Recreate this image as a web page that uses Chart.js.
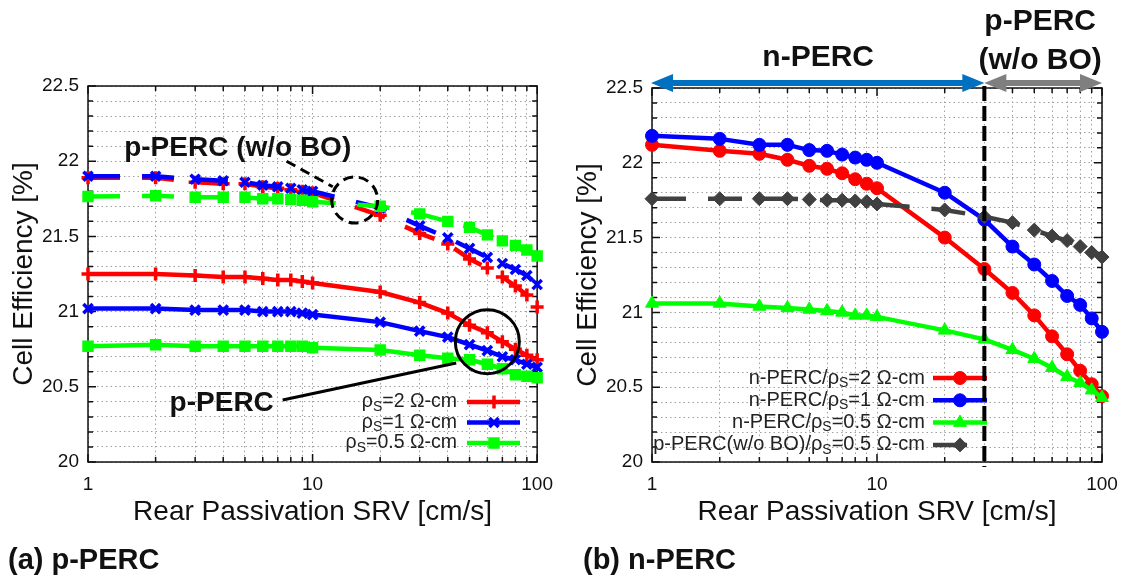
<!DOCTYPE html>
<html>
<head>
<meta charset="utf-8">
<script src="https://cdn.jsdelivr.net/npm/chart.js@4.4.1/dist/chart.umd.min.js"></script>
<style>
  html, body { margin: 0; padding: 0; background: #fff; }
  #wrap { position: relative; width: 1130px; height: 579px; overflow: hidden; }
  canvas { position: absolute; top: 0; }
  #chartA { left: 0; }
  #chartB { left: 564px; }
  .caption { position: absolute; top: 543px; line-height: 32px; font: bold 29px "Liberation Sans", Arial, sans-serif; color: #111; }
</style>
</head>
<body>
<div id="wrap">
  <canvas id="chartA" width="564" height="579"></canvas>
  <canvas id="chartB" width="566" height="579"></canvas>
  <div class="caption" style="left:8px">(a) p-PERC</div>
  <div class="caption" style="left:583px">(b) n-PERC</div>
</div>
<script>
const FONT = '"Liberation Sans", Arial, sans-serif';

// rear passivation SRV [cm/s]
const srv = [1, 2, 3, 4, 5, 6, 7, 8, 9, 10, 20, 30, 40, 50, 60, 70, 80, 90, 100];

// (a) p-PERC, with BO degradation (solid)
const pRho2 = [21.25, 21.25, 21.24, 21.23, 21.23, 21.22, 21.21, 21.21, 21.20, 21.19, 21.13, 21.06, 20.99, 20.91, 20.86, 20.80, 20.75, 20.71, 20.68];
const pRho1 = [21.02, 21.02, 21.01, 21.01, 21.01, 21.00, 21.00, 21.00, 20.99, 20.98, 20.93, 20.87, 20.83, 20.78, 20.74, 20.70, 20.68, 20.65, 20.63];
const pRho05 = [20.77, 20.78, 20.77, 20.77, 20.77, 20.77, 20.77, 20.77, 20.77, 20.76, 20.745, 20.71, 20.69, 20.68, 20.65, 20.62, 20.58, 20.57, 20.56];

// (a) p-PERC w/o BO (dashed)
const pNoBoRho2 = [21.89, 21.89, 21.86, 21.85, 21.85, 21.83, 21.82, 21.81, 21.80, 21.79, 21.64, 21.52, 21.45, 21.35, 21.29, 21.23, 21.17, 21.11, 21.03];
const pNoBoRho1 = [21.90, 21.90, 21.88, 21.87, 21.86, 21.84, 21.83, 21.82, 21.81, 21.80, 21.69, 21.57, 21.49, 21.42, 21.36, 21.32, 21.28, 21.24, 21.18];
const pNoBoRho05 = [21.765, 21.77, 21.76, 21.76, 21.76, 21.75, 21.75, 21.745, 21.74, 21.73, 21.70, 21.65, 21.60, 21.56, 21.51, 21.47, 21.44, 21.41, 21.37];

// (b) n-PERC
const nRho2 = [22.12, 22.08, 22.06, 22.02, 21.98, 21.96, 21.93, 21.89, 21.86, 21.83, 21.50, 21.29, 21.13, 20.98, 20.84, 20.72, 20.61, 20.52, 20.44];
const nRho1 = [22.18, 22.16, 22.12, 22.12, 22.085, 22.08, 22.055, 22.035, 22.02, 22.00, 21.80, 21.62, 21.44, 21.32, 21.21, 21.11, 21.05, 20.96, 20.87];
const nRho05 = [21.06, 21.06, 21.04, 21.03, 21.02, 21.01, 21.00, 20.98, 20.98, 20.97, 20.88, 20.82, 20.75, 20.69, 20.63, 20.57, 20.53, 20.48, 20.43];
const nRefNoBo = [21.76, 21.76, 21.76, 21.76, 21.755, 21.75, 21.75, 21.745, 21.74, 21.725, 21.685, 21.64, 21.60, 21.55, 21.51, 21.48, 21.44, 21.40, 21.37];

// axes
const xTickValues = [1, 2, 3, 4, 5, 6, 7, 8, 9, 10, 20, 30, 40, 50, 60, 70, 80, 90, 100];
const xTickLabels = [1, 10, 100];
const yTickLabels = [20, 20.5, 21, 21.5, 22, 22.5];

const legendA = [
  { pre: 'ρ', sub: 'S', post: '=2 Ω-cm' },
  { pre: 'ρ', sub: 'S', post: '=1 Ω-cm' },
  { pre: 'ρ', sub: 'S', post: '=0.5 Ω-cm' },
];
const legendB = [
  { pre: 'n-PERC/ρ', sub: 'S', post: '=2 Ω-cm' },
  { pre: 'n-PERC/ρ', sub: 'S', post: '=1 Ω-cm' },
  { pre: 'n-PERC/ρ', sub: 'S', post: '=0.5 Ω-cm' },
  { pre: 'p-PERC(w/o BO)/ρ', sub: 'S', post: '=0.5 Ω-cm' },
];

const RED = '#ff0000', BLUE = '#0000ff', GREEN = '#00ff00', GRAY = '#404040';

Chart.defaults.font.family = FONT;

function series(label, values, color, style, radius, extra) {
  return Object.assign({
    label: label,
    data: srv.map((x, i) => ({ x: x, y: values[i] })),
    borderColor: color,
    backgroundColor: color,
    pointBackgroundColor: color,
    pointBorderColor: color,
    borderWidth: 4.5,
    borderJoinStyle: 'round',
    pointStyle: style,
    pointRadius: radius,
    pointBorderWidth: 3,
    tension: 0,
    clip: false,
  }, extra || {});
}

function buildScales() {
  return {
    x: {
      type: 'logarithmic',
      min: 1,
      max: 100,
      afterBuildTicks: (s) => { s.ticks = xTickValues.map((v) => ({ value: v })); },
      afterFit: (s) => { s.height = 117; },
      ticks: {
        autoSkip: false, maxRotation: 0, padding: 11, color: '#111',
        font: { size: 19 },
        callback: (v) => (xTickLabels.includes(v) ? String(v) : ''),
      },
      grid: { color: '#a0a0a0', lineWidth: 1, drawTicks: false },
      border: { display: false, dash: [1.5, 3] },
      title: {
        display: true, text: 'Rear Passivation SRV [cm/s]', color: '#111',
        font: { size: 28 }, padding: { top: 0, bottom: 50 },
      },
    },
    y: {
      min: 20,
      max: 22.5,
      afterBuildTicks: (s) => {
        const t = [];
        for (let k = 0; k <= 25; k++) t.push({ value: 20 + k / 10 });
        s.ticks = t;
      },
      afterFit: (s) => { s.width = 88; },
      ticks: {
        autoSkip: false, padding: 9, color: '#111',
        font: { size: 19 },
        callback: (v) => {
          const r = Math.round(v * 10) / 10;
          return yTickLabels.includes(r) ? String(r) : '';
        },
      },
      grid: { color: '#a0a0a0', lineWidth: 1, drawTicks: false },
      border: { display: false, dash: [1.5, 3] },
      title: {
        display: true, text: 'Cell Efficiency [%]', color: '#111',
        font: { size: 28 }, padding: { top: 7, bottom: 0 },
      },
    },
  };
}

// frame around the plot with inward tics on all four sides
const frameTicks = {
  id: 'frameTicks',
  beforeDatasetsDraw(chart) {
    const { ctx, chartArea: a, scales: { x, y } } = chart;
    ctx.save();
    ctx.strokeStyle = '#111';
    ctx.lineWidth = 1.5;
    ctx.beginPath();
    xTickValues.forEach((v) => {
      const px = x.getPixelForValue(v);
      const len = xTickLabels.includes(v) ? 8 : 5;
      ctx.moveTo(px, a.bottom); ctx.lineTo(px, a.bottom - len);
      ctx.moveTo(px, a.top); ctx.lineTo(px, a.top + len);
    });
    y.ticks.forEach((t) => {
      const py = y.getPixelForValue(t.value);
      const len = yTickLabels.includes(Math.round(t.value * 10) / 10) ? 8 : 5;
      ctx.moveTo(a.left, py); ctx.lineTo(a.left + len, py);
      ctx.moveTo(a.right, py); ctx.lineTo(a.right - len, py);
    });
    ctx.stroke();
    ctx.strokeRect(a.left, a.top, a.right - a.left, a.bottom - a.top);
    ctx.restore();
  },
};

function drawLegend(chart, entries, lay) {
  const ctx = chart.ctx;
  const big = lay.size + 'px ' + FONT, small = Math.round(lay.size * 0.72) + 'px ' + FONT;
  entries.forEach((e, i) => {
    const ds = chart.data.datasets[i];
    const y = lay.top + i * lay.step;
    ctx.save();
    ctx.fillStyle = '#222';
    ctx.textBaseline = 'middle';
    ctx.font = big;
    const w1 = ctx.measureText(e.pre).width, w3 = ctx.measureText(e.post).width;
    ctx.font = small;
    const w2 = ctx.measureText(e.sub).width;
    let x = lay.textRight - (w1 + w2 + w3);
    ctx.font = big; ctx.fillText(e.pre, x, y); x += w1;
    ctx.font = small; ctx.fillText(e.sub, x, y + 5); x += w2;
    ctx.font = big; ctx.fillText(e.post, x, y);
    ctx.strokeStyle = ds.borderColor;
    ctx.lineWidth = ds.borderWidth;
    ctx.setLineDash(ds.borderDash || []);
    ctx.beginPath(); ctx.moveTo(lay.x1, y); ctx.lineTo(lay.x2, y); ctx.stroke();
    ctx.setLineDash([]);
    ctx.fillStyle = ds.pointBackgroundColor;
    ctx.strokeStyle = ds.pointBorderColor;
    ctx.lineWidth = ds.pointBorderWidth;
    Chart.helpers.drawPoint(ctx, { pointStyle: ds.pointStyle, radius: ds.pointRadius, borderWidth: ds.pointBorderWidth, rotation: 0 }, lay.mark, y);
    ctx.restore();
  });
}

function boldText(ctx, text, x, y, size) {
  ctx.font = 'bold ' + size + 'px ' + FONT;
  ctx.fillStyle = '#111';
  ctx.textAlign = 'center';
  ctx.textBaseline = 'middle';
  ctx.fillText(text, x, y);
}

const annotA = {
  id: 'annotA',
  afterDatasetsDraw(chart) {
    const { ctx, scales: { x, y } } = chart;
    drawLegend(chart, legendA, { size: 19.5, textRight: 457, x1: 467, x2: 520, mark: 494, top: 402, step: 20.5 });
    ctx.save();
    ctx.strokeStyle = '#000';
    ctx.lineWidth = 3;
    // w/o BO: dashed leader and dashed circle
    ctx.setLineDash([10, 6]);
    ctx.beginPath();
    ctx.moveTo(x.getPixelForValue(7.66), y.getPixelForValue(22.0));
    ctx.lineTo(x.getPixelForValue(12.3), y.getPixelForValue(21.83));
    ctx.stroke();
    ctx.beginPath();
    ctx.arc(x.getPixelForValue(15.4), y.getPixelForValue(21.742), 23, 0, Math.PI * 2);
    ctx.stroke();
    // with BO: solid leader and circle
    ctx.setLineDash([]);
    ctx.beginPath();
    ctx.moveTo(x.getPixelForValue(7.36), y.getPixelForValue(20.412));
    ctx.lineTo(x.getPixelForValue(43.6), y.getPixelForValue(20.658));
    ctx.stroke();
    ctx.beginPath();
    ctx.arc(x.getPixelForValue(60), y.getPixelForValue(20.8), 32, 0, Math.PI * 2);
    ctx.stroke();
    boldText(ctx, 'p-PERC (w/o BO)', x.getPixelForValue(4.64), y.getPixelForValue(22.085), 28);
    boldText(ctx, 'p-PERC', x.getPixelForValue(3.94), y.getPixelForValue(20.392), 28);
    ctx.restore();
  },
};

function arrow(ctx, x1, x2, y, color) {
  const head = 22, half = 9, shaft = 3;
  ctx.fillStyle = color;
  ctx.beginPath();
  ctx.moveTo(x1, y);
  ctx.lineTo(x1 + head, y - half);
  ctx.lineTo(x1 + head, y - shaft);
  ctx.lineTo(x2 - head, y - shaft);
  ctx.lineTo(x2 - head, y - half);
  ctx.lineTo(x2, y);
  ctx.lineTo(x2 - head, y + half);
  ctx.lineTo(x2 - head, y + shaft);
  ctx.lineTo(x1 + head, y + shaft);
  ctx.lineTo(x1 + head, y + half);
  ctx.closePath();
  ctx.fill();
}

const annotB = {
  id: 'annotB',
  afterDatasetsDraw(chart) {
    const { ctx, chartArea: a, scales: { x } } = chart;
    drawLegend(chart, legendB, { size: 20, textRight: 361, x1: 369, x2: 423, mark: 396, top: 378, step: 22.3 });
    ctx.save();
    const xSplit = x.getPixelForValue(30);
    arrow(ctx, a.left - 1, xSplit, a.top - 5, '#0070c0');
    arrow(ctx, xSplit, a.right, a.top - 5, '#7f7f7f');
    ctx.strokeStyle = '#000';
    ctx.lineWidth = 4;
    ctx.setLineDash([15, 5]);
    ctx.beginPath();
    ctx.moveTo(xSplit, a.top - 2);
    ctx.lineTo(xSplit, a.bottom + 5);
    ctx.stroke();
    boldText(ctx, 'n-PERC', (a.left + xSplit) / 2, a.top - 30, 30);
    boldText(ctx, 'p-PERC', (xSplit + a.right) / 2 - 3, a.top - 66, 30);
    boldText(ctx, '(w/o BO)', (xSplit + a.right) / 2 - 3, a.top - 27, 30);
    ctx.restore();
  },
};

const baseOptions = (padTop, padRight) => ({
  responsive: false,
  animation: false,
  devicePixelRatio: 1,
  events: [],
  layout: { padding: { left: 0, top: padTop, right: padRight, bottom: 0 } },
  plugins: { legend: { display: false }, tooltip: { enabled: false } },
  scales: buildScales(),
});

new Chart(document.getElementById('chartA'), {
  type: 'line',
  data: {
    datasets: [
      series('p-PERC ρS=2', pRho2, RED, 'cross', 6.5, { order: 3, pointBorderWidth: 3.5 }),
      series('p-PERC ρS=1', pRho1, BLUE, 'crossRot', 6.5, { order: 2, pointBorderWidth: 3.5 }),
      series('p-PERC ρS=0.5', pRho05, GREEN, 'rect', 7, { order: 1, pointBorderWidth: 1.5 }),
      series('p-PERC w/o BO ρS=2', pNoBoRho2, RED, 'cross', 6.5, { order: 3, pointBorderWidth: 3.5, borderDash: [32, 22] }),
      series('p-PERC w/o BO ρS=1', pNoBoRho1, BLUE, 'crossRot', 6.5, { order: 2, pointBorderWidth: 3.5, borderDash: [32, 22] }),
      series('p-PERC w/o BO ρS=0.5', pNoBoRho05, GREEN, 'rect', 7, { order: 1, pointBorderWidth: 1.5, borderDash: [32, 22] }),
    ],
  },
  options: baseOptions(86, 26),
  plugins: [frameTicks, annotA],
});

new Chart(document.getElementById('chartB'), {
  type: 'line',
  data: {
    datasets: [
      series('n-PERC ρS=2', nRho2, RED, 'circle', 6.5, { order: 4, pointBorderWidth: 1 }),
      series('n-PERC ρS=1', nRho1, BLUE, 'circle', 6.5, { order: 3, pointBorderWidth: 1 }),
      series('n-PERC ρS=0.5', nRho05, GREEN, 'triangle', 7.5, { order: 2, pointBorderWidth: 1 }),
      series('p-PERC(w/o BO) ρS=0.5', nRefNoBo, GRAY, 'rectRot', 7, { order: 1, pointBorderWidth: 1, borderDash: [34, 22] }),
    ],
  },
  options: baseOptions(88, 28),
  plugins: [frameTicks, annotB],
});
</script>
</body>
</html>
